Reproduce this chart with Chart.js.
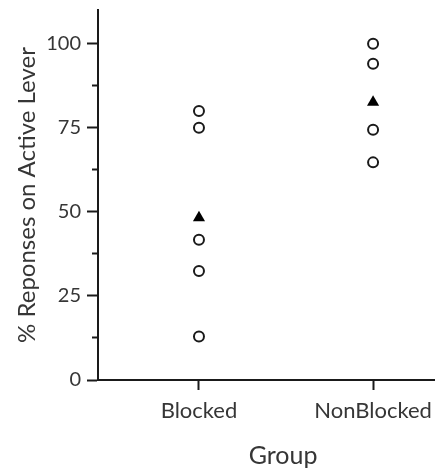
<!DOCTYPE html>
<html>
<head>
<meta charset="utf-8">
<script src="https://cdn.jsdelivr.net/npm/chart.js@4"></script>
<style>
  html, body { margin: 0; padding: 0; background: #fff; }
  #wrap { width: 441px; height: 470px; }
</style>
</head>
<body>
<div id="wrap"><canvas id="groupChart" width="441" height="470"></canvas></div>
<script>
// values
const groups = ['Blocked', 'NonBlocked'];
const blockedValues = [80, 75, 41.7, 32.4, 12.9];
const nonBlockedValues = [100, 94, 74.4, 64.7];
const groupMeans = [48.2, 82.6];
const yTickValues = [0, 25, 50, 75, 100];
const yMinorValues = [12.5, 37.5, 62.5, 87.5];

const textColor = '#363636';
const lineColor = '#1a1a1a';
const fontFamily = 'Lato, "Open Sans", sans-serif';

document.addEventListener('DOMContentLoaded', function () {
    var ctx = document.getElementById('groupChart').getContext('2d');

    var individualPoints = [];
    blockedValues.forEach(v => individualPoints.push({ x: 0, y: v }));
    nonBlockedValues.forEach(v => individualPoints.push({ x: 1, y: v }));
    var meanPoints = groupMeans.map((v, i) => ({ x: i, y: v }));

    // x axis title, centred between the two groups like the original
    var groupTitle = {
        id: 'groupTitle',
        afterDraw(chart) {
            var xs = chart.scales.x;
            var c = chart.ctx;
            var mid = (xs.getPixelForValue(0) + xs.getPixelForValue(groups.length - 1)) / 2;
            c.save();
            c.font = '400 25px ' + fontFamily;
            c.fillStyle = textColor;
            c.textAlign = 'center';
            c.textBaseline = 'alphabetic';
            c.fillText('Group', mid - 3, 464);
            c.restore();
        }
    };

    new Chart(ctx, {
        type: 'scatter',
        data: {
            datasets: [{
                label: 'Individual',
                data: individualPoints,
                pointStyle: 'circle',
                pointRadius: 5,
                pointBorderWidth: 2,
                pointBackgroundColor: '#fff',
                pointBorderColor: lineColor
            }, {
                label: 'Mean',
                data: meanPoints,
                pointStyle: 'triangle',
                pointRadius: 7,
                pointBorderWidth: 0,
                pointBackgroundColor: '#000',
                pointBorderColor: '#000'
            }]
        },
        options: {
            responsive: false,
            animation: false,
            layout: { padding: { top: 10, right: 6, left: 0, bottom: 0 } },
            plugins: {
                legend: { display: false },
                tooltip: { enabled: false }
            },
            scales: {
                x: {
                    type: 'linear',
                    min: -0.58,
                    max: 1.35,
                    afterBuildTicks: s => { s.ticks = groups.map((g, i) => ({ value: i })); },
                    afterFit: s => { s.height = 90; s.paddingLeft = 0; s.paddingRight = 0; },
                    grid: { drawOnChartArea: false, tickLength: 10, tickWidth: 2, tickColor: lineColor },
                    border: { display: true, width: 2, color: lineColor },
                    ticks: {
                        padding: 8,
                        color: textColor,
                        font: { family: fontFamily, size: 22, weight: '400' },
                        callback: v => groups[v]
                    }
                },
                y: {
                    min: 0,
                    max: 110,
                    weight: 1,
                    afterBuildTicks: s => { s.ticks = yTickValues.map(v => ({ value: v })); },
                    afterFit: s => { s.width = 98; s.paddingTop = 0; s.paddingBottom = 0; },
                    grid: { drawOnChartArea: false, tickLength: 11, tickWidth: 2, tickColor: lineColor },
                    border: { display: true, width: 2, color: lineColor },
                    ticks: {
                        padding: 6,
                        color: textColor,
                        font: { family: fontFamily, size: 20, weight: '400' }
                    },
                    title: {
                        display: true,
                        text: '% Reponses on Active Lever',
                        color: textColor,
                        font: { family: fontFamily, size: 24, weight: '400', lineHeight: 1.2 },
                        padding: { top: 13, bottom: 0 }
                    }
                },
                yMinor: {
                    position: 'left',
                    min: 0,
                    max: 110,
                    weight: 0,
                    afterBuildTicks: s => { s.ticks = yMinorValues.map(v => ({ value: v })); },
                    afterFit: s => { s.width = 0; s.paddingTop = 0; s.paddingBottom = 0; },
                    grid: { drawOnChartArea: false, tickLength: 6, tickWidth: 2, tickColor: lineColor },
                    border: { display: false },
                    ticks: { display: false }
                }
            }
        },
        plugins: [groupTitle]
    });
});
</script>
</body>
</html>
